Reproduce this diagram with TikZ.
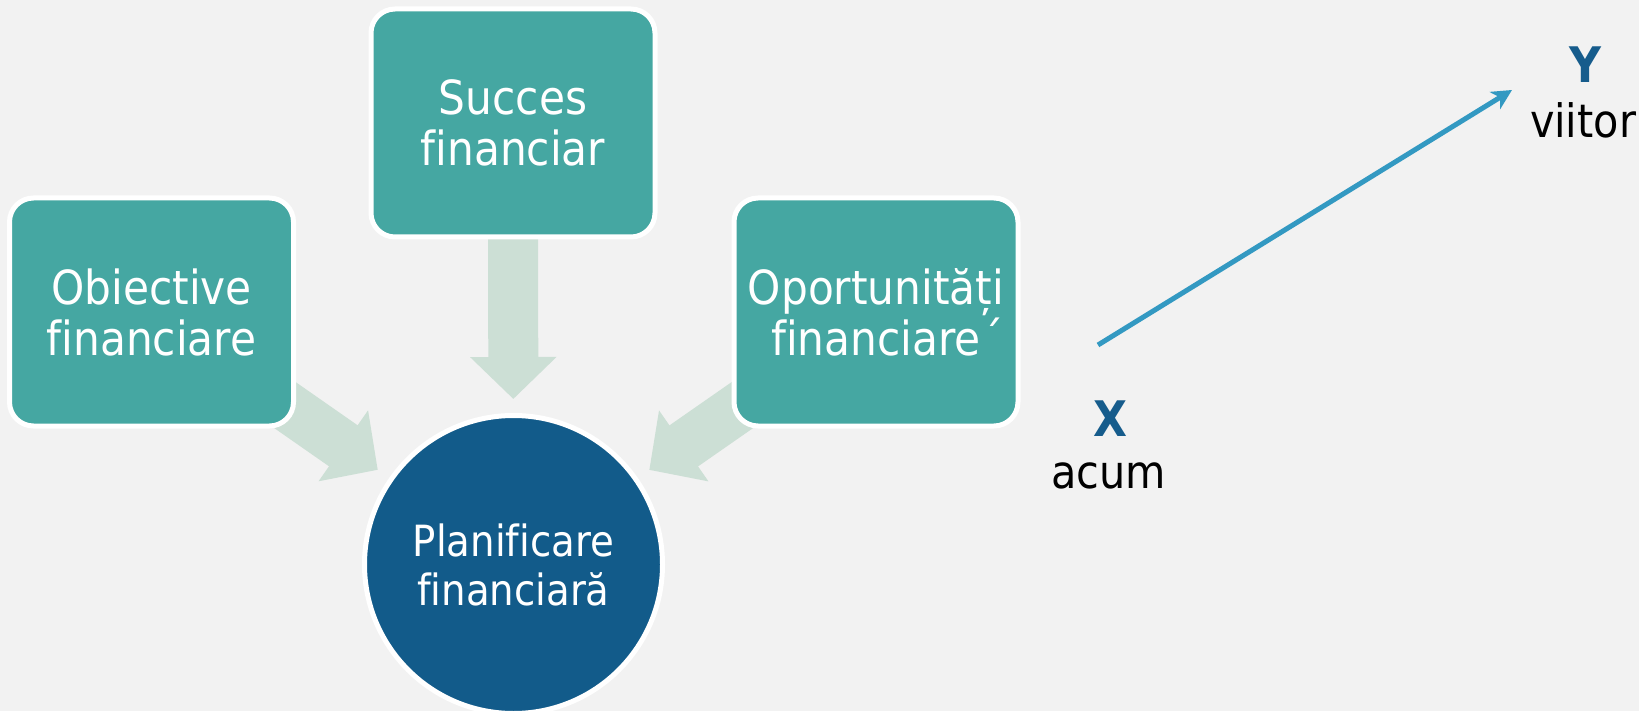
\documentclass[tikz,border=0pt]{standalone}
\usepackage{fontspec}
\newfontfamily\tah[Ligatures={NoCommon}]{DejaVu Sans Condensed}
\usetikzlibrary{arrows.meta,calc,backgrounds}
\definecolor{bgc}{HTML}{F2F2F2}
\definecolor{tealc}{HTML}{45A7A2}
\definecolor{navyc}{HTML}{125B8A}
\definecolor{paleg}{HTML}{CCDFD5}
\definecolor{skyc}{HTML}{3399C2}
\definecolor{xyc}{HTML}{165C8C}
\begin{document}
\begin{tikzpicture}[x=0.5pt,y=-0.5pt,
  box/.style={draw=white, line width=2.5pt, fill=tealc, rounded corners=12pt,
    minimum width=142pt, minimum height=114pt, inner sep=0pt, align=center,
    text=white, font={\tah\fontsize{23.5pt}{25.5pt}\selectfont}},
  hub/.style={circle, draw=white, line width=2.5pt, fill=navyc, minimum size=149pt,
    inner sep=0pt, align=center, text=white, font={\tah\fontsize{21.5pt}{24.5pt}\selectfont}},
  blockarrow/.style={draw=paleg, line width=25pt, line cap=butt,
    -{Triangle[length=21pt,width=42pt]}},
  timeline/.style={draw=skyc, line width=2.5pt, line cap=butt,
    -{Stealth[length=10pt,width=10pt,inset=3pt]}},
  xylbl/.style={anchor=base, inner sep=0pt, text=xyc, font={\tah\bfseries\fontsize{24.5pt}{28pt}\selectfont}},
  tlbl/.style={anchor=base, inner sep=0pt, text=black, font={\tah\fontsize{23pt}{27pt}\selectfont}}
]
\useasboundingbox (0,0) rectangle (1639,711);
\clip (0,0) rectangle (1639,711);
\node[box] (obj) at (151.5,312) {Obiective\\financiare};
\node[box] (suc) at (513,123) {Succes\\financiar};
\node[box] (opp) at (876,312) {Oportunități\\financiare\rlap{\kern1pt ´}};
\node[hub] (plan) at (513.5,564.5) {Planificare\\financiară};
\node[xylbl] (xl) at (1110,436) {X};
\node[tlbl] (acum) at (1108.5,488) {acum};
\node[xylbl] (yl) at (1585,83) {Y};
\node[tlbl] (viitor) at (1583,138) {viitor};
\coordinate (now) at (1098,345);
\coordinate (future) at (1512,90);
\draw[timeline] (now) -- (future);
\begin{pgfonlayer}{background}
\fill[bgc] (0,0) rectangle (1639,711);
\draw[blockarrow] (suc.center) -- ($(plan.center)!82.75pt!(suc.center)$);
\draw[blockarrow] (obj.center) -- ($(plan.center)!82.75pt!(obj.center)$);
\draw[blockarrow] (opp.center) -- ($(plan.center)!82.75pt!(opp.center)$);
\end{pgfonlayer}
\end{tikzpicture}
\end{document}
